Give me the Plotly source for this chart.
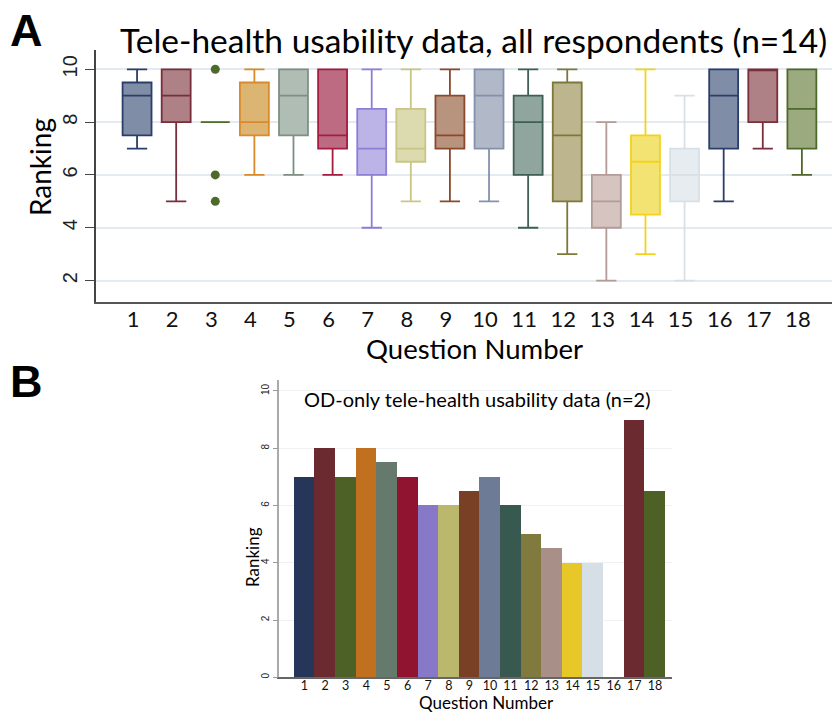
import plotly.graph_objects as go

# ---- data ----
questions = list(range(1, 19))
question_labels = [str(q) for q in questions]

# Panel A: box-plot summaries for all respondents (n=14)
q1 = [7.5, 8, 8, 7.5, 7.5, 7, 6, 6.5, 7, 7, 6, 5, 4, 4.5, 5, 7, 8, 7]
median = [9, 9, 8, 8, 9, 7.5, 7, 7, 7.5, 9, 8, 7.5, 5, 6.5, 6, 9, 10, 8.5]
q3 = [9.5, 10, 8, 9.5, 10, 10, 8.5, 8.5, 9, 10, 9, 9.5, 6, 7.5, 7, 10, 10, 10]
lower_adj = [7, 5, 8, 6, 6, 6, 4, 5, 5, 5, 4, 3, 2, 3, 2, 5, 7, 6]
upper_adj = [10, 10, 8, 10, 10, 10, 10, 10, 10, 10, 10, 10, 8, 10, 9, 10, 10, 10]
outlier_question = [3, 3, 3]
outlier_values = [10, 6, 5]

# Panel B: OD-only rankings (n=2); question 16 has no value
od_values = [7, 8, 7, 8, 7.5, 7, 6, 6, 6.5, 7, 6, 5, 4.5, 4, 4, None, 9, 6.5]

# ---- styling ----
line_colors = ['#2b3d69', '#7a2e3a', '#4e6a2a', '#d98a2b', '#7d9083', '#a51c3e',
               '#8d7ed6', '#c9c585', '#894a2b', '#8491ad', '#3e5f55', '#7d7839',
               '#b39c95', '#f2d31a', '#d8e0e7', '#2b3d69', '#7a2e3a', '#4e6a2a']
fill_colors = ['#808da7', '#ad8186', '#9cab7f', '#ddb572', '#b0bdb4', '#bd6b83',
               '#bcb4e6', '#dcdbb0', '#b8937e', '#b1b8c8', '#8fa59d', '#bcb58e',
               '#d5c4c0', '#f3e372', '#e7ecf0', '#808da7', '#ad8186', '#9cab7f']
bar_colors = ['#263659', '#6b2a30', '#4d6126', '#c0701e', '#66796d', '#90142f',
              '#8878c8', '#bbb86e', '#7a4026', '#6e7b97', '#37594f', '#807a3e',
              '#a88f88', '#e8c829', '#d6dfe6', '#ffffff', '#6b2a30', '#4d6126']

W, H = 832, 712
TXT = 'Lato, "Open Sans", sans-serif'
ARIAL = '"Liberation Sans", Arial, sans-serif'


def px_x(p):
    return p / W


def px_y(p):
    return 1 - p / H


fig = go.Figure()

for i, q in enumerate(questions):
    fig.add_trace(go.Box(
        x=[q], q1=[q1[i]], median=[median[i]], q3=[q3[i]],
        lowerfence=[lower_adj[i]], upperfence=[upper_adj[i]],
        width=0.74, whiskerwidth=0.7, boxpoints=False,
        line=dict(color=line_colors[i], width=1.8),
        fillcolor=fill_colors[i],
        xaxis='x', yaxis='y', showlegend=False, hoverinfo='skip',
    ))

fig.add_trace(go.Scatter(
    x=outlier_question, y=outlier_values, mode='markers',
    marker=dict(color=line_colors[2], size=9),
    xaxis='x', yaxis='y', showlegend=False, hoverinfo='skip',
))

fig.add_trace(go.Bar(
    x=questions, y=od_values, marker=dict(color=bar_colors, line=dict(width=0)),
    xaxis='x2', yaxis='y2', showlegend=False, hoverinfo='skip',
))

fig.update_layout(
    width=W, height=H,
    margin=dict(l=0, r=0, t=0, b=0),
    paper_bgcolor='white', plot_bgcolor='white',
    bargap=0,
    xaxis=dict(
        domain=[px_x(96), 1.0], anchor='y',
        range=[-0.05, 18.77], tickvals=questions, ticktext=question_labels,
        ticks='', showgrid=False, zeroline=False,
        showline=True, linecolor='#555555', linewidth=1.5,
        tickfont=dict(family=TXT, size=22, color='#111111'),
        ticklabelshift=-4, ticklabelstandoff=-3,
    ),
    yaxis=dict(
        domain=[px_y(302), px_y(50)], anchor='x',
        range=[1.19, 10.73], tickvals=[2, 4, 6, 8, 10],
        ticks='outside', ticklen=9, tickwidth=1.3, tickcolor='#444444',
        tickangle=-90, tickfont=dict(family=ARIAL, size=20, color='#222222'),
        showgrid=True, gridcolor='#e3ebf0', gridwidth=1.5, zeroline=False,
        showline=True, linecolor='#444444', linewidth=1.5,
    ),
    xaxis2=dict(
        domain=[px_x(279.3), px_x(672)], anchor='y2',
        range=[-0.22, 18.83], tickvals=questions, ticktext=question_labels,
        ticks='', showgrid=False, zeroline=False,
        showline=True, linecolor='#666666', linewidth=1.5,
        tickfont=dict(family=TXT, size=12.5, color='#111111'),
        ticklabelstandoff=-4,
    ),
    yaxis2=dict(
        domain=[px_y(677.3), px_y(380)], anchor='x2',
        range=[0, 10.38], tickvals=[0, 2, 4, 6, 8, 10],
        ticks='outside', ticklen=5, tickwidth=1, tickcolor='#999999',
        tickangle=-90, tickfont=dict(family=ARIAL, size=10, color='#222222'),
        showgrid=True, gridcolor='#eef2f5', gridwidth=1, zeroline=False,
        showline=True, linecolor='#aaaaaa', linewidth=1.5,
    ),
    annotations=[
        dict(text='<b>A</b>', x=px_x(8), y=px_y(30), xref='paper', yref='paper',
             xanchor='left', yanchor='middle', showarrow=False,
             font=dict(family=ARIAL, size=45, color='black')),
        dict(text='<b>B</b>', x=px_x(8), y=px_y(381), xref='paper', yref='paper',
             xanchor='left', yanchor='middle', showarrow=False,
             font=dict(family=ARIAL, size=45, color='black')),
        dict(text='Tele-health usability data, all respondents (n=14)',
             x=px_x(473), y=px_y(40), xref='paper', yref='paper',
             xanchor='center', yanchor='middle', showarrow=False,
             font=dict(family=TXT, size=33.5, color='black')),
        dict(text='Ranking', x=px_x(40), y=px_y(167), xref='paper', yref='paper',
             xanchor='center', yanchor='middle', showarrow=False, textangle=-90,
             font=dict(family=TXT, size=28, color='black')),
        dict(text='Question Number', x=px_x(474), y=px_y(348), xref='paper', yref='paper',
             xanchor='center', yanchor='middle', showarrow=False,
             font=dict(family=TXT, size=27.5, color='black')),
        dict(text='OD-only tele-health usability data (n=2)',
             x=px_x(478), y=px_y(399), xref='paper', yref='paper',
             xanchor='center', yanchor='middle', showarrow=False,
             font=dict(family=TXT, size=20, color='black')),
        dict(text='Ranking', x=px_x(252), y=px_y(557), xref='paper', yref='paper',
             xanchor='center', yanchor='middle', showarrow=False, textangle=-90,
             font=dict(family=TXT, size=17, color='black')),
        dict(text='Question Number', x=px_x(486), y=px_y(702.5), xref='paper', yref='paper',
             xanchor='center', yanchor='middle', showarrow=False,
             font=dict(family=TXT, size=17, color='black')),
    ],
)

fig.write_html("out.html")
